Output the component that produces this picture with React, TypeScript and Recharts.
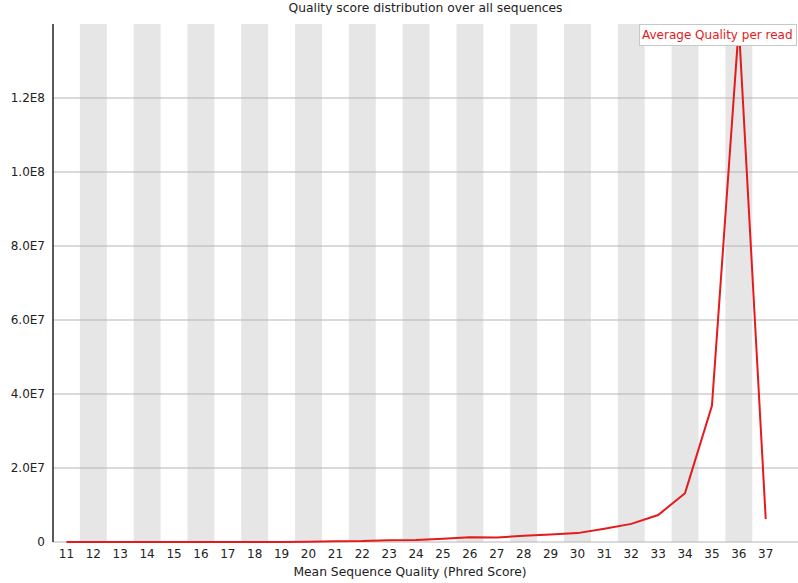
import React from "react";
import {
  LineChart,
  Line,
  XAxis,
  YAxis,
  ReferenceArea,
  ReferenceLine,
} from "recharts";

const qualities = [
  11, 12, 13, 14, 15, 16, 17, 18, 19, 20, 21, 22, 23, 24, 25, 26, 27, 28, 29,
  30, 31, 32, 33, 34, 35, 36, 37,
];
const readCounts = [
  10000, 10000, 10000, 10000, 10000, 15000, 20000, 20000, 30000, 50000,
  200000, 250000, 500000, 550000, 900000, 1300000, 1200000, 1700000, 2000000,
  2400000, 3600000, 4900000, 7300000, 13200000, 36800000, 139500000, 6200000,
];
const yTicks = [0, 2e7, 4e7, 6e7, 8e7, 1e8, 1.2e8];
const shadedQualities = qualities.filter((q) => q % 2 === 0);

const data = qualities.map((q, i) => ({ q, count: readCounts[i] }));

const FONT = "'DejaVu Sans', sans-serif";

const fmtSci = (v: number) => {
  if (v === 0) return "0";
  const exp = Math.floor(Math.log10(v));
  return (v / Math.pow(10, exp)).toFixed(1) + "E" + exp;
};

export default function App() {
  return (
    <div
      style={{
        position: "absolute",
        left: 0,
        top: 0,
        width: 798,
        height: 583,
        background: "#fff",
        fontFamily: FONT,
      }}
    >
      <div
        style={{
          position: "absolute",
          top: 1,
          left: 53,
          width: 745,
          textAlign: "center",
          fontSize: 12.3,
          color: "#222",
        }}
      >
        Quality score distribution over all sequences
      </div>
      <LineChart
        width={798}
        height={583}
        data={data}
        margin={{ top: 24, right: 0, left: 0, bottom: 11 }}
      >
        {shadedQualities.map((q) => (
          <ReferenceArea
            key={q}
            x1={q - 0.5}
            x2={q + 0.5}
            y1={0}
            y2={1.4e8}
            fill="#e6e6e6"
            fillOpacity={1}
            stroke="none"
          />
        ))}
        {yTicks.map((t) => (
          <ReferenceLine key={t} y={t} stroke="#b4b4b4" strokeWidth={1} />
        ))}
        <XAxis
          dataKey="q"
          type="number"
          domain={[10.5, 38.2]}
          ticks={qualities}
          interval={0}
          height={30}
          axisLine={false}
          tickLine={false}
          tickMargin={1}
          tick={{ fontSize: 12, fill: "#222", fontFamily: FONT }}
        />
        <YAxis
          width={53}
          domain={[0, 1.4e8]}
          ticks={yTicks}
          tickFormatter={fmtSci}
          axisLine={{ stroke: "#222", strokeWidth: 1.5 }}
          tickLine={false}
          tickMargin={2}
          tick={{ fontSize: 12, fill: "#222", fontFamily: FONT }}
        />
        <Line
          type="linear"
          dataKey="count"
          stroke="#e41a1c"
          strokeWidth={2}
          dot={false}
          isAnimationActive={false}
        />
      </LineChart>
      <div
        style={{
          position: "absolute",
          top: 565,
          left: 0,
          width: 820,
          textAlign: "center",
          fontSize: 12.3,
          color: "#222",
        }}
      >
        Mean Sequence Quality (Phred Score)
      </div>
      <div
        style={{
          position: "absolute",
          top: 24,
          left: 639,
          width: 158,
          height: 22,
          background: "#fff",
          border: "1px solid #c8c8c8",
          boxSizing: "border-box",
          color: "#e41a1c",
          fontSize: 12,
          lineHeight: "20px",
          paddingLeft: 2,
          whiteSpace: "nowrap",
        }}
      >
        Average Quality per read
      </div>
    </div>
  );
}
